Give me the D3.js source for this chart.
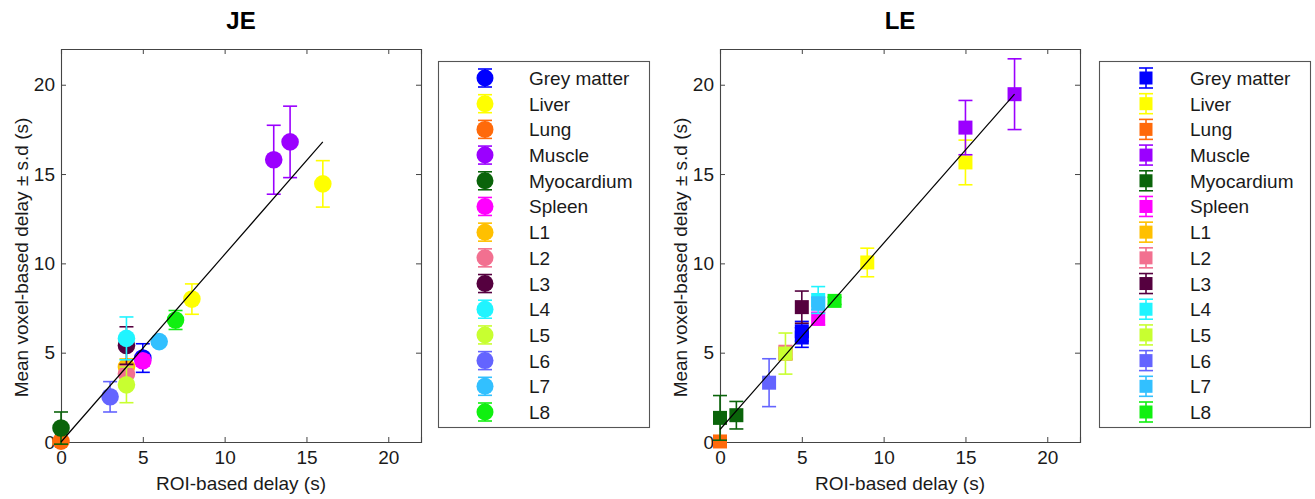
<!DOCTYPE html>
<html><head><meta charset="utf-8">
<script src="https://cdn.jsdelivr.net/npm/d3@7"></script>
<style>
body{margin:0;background:#fff}
svg{display:block}
text{font-family:"Liberation Sans",Arial,Helvetica,sans-serif;fill:#1a1a1a}
</style>
</head><body>
<svg id="c" width="1315" height="499"></svg>
<script>
// ---------- data ----------
const regions = ["Grey matter","Liver","Lung","Muscle","Myocardium","Spleen","L1","L2","L3","L4","L5","L6","L7","L8"];
const regionColors = ["#0000ff","#ffff00","#ff6a0a","#9b00ff","#0a640a","#ff00ff","#ffc000","#f27090","#55003f","#20f4ff","#c8ff30","#6464ff","#32c0ff","#10f010"];

const ticks = [0,5,10,15,20];
const axisDomain = [0,22];

// JE (circles)
const jeRegion = ["Grey matter","Liver","Liver","Lung","Muscle","Muscle","Myocardium","Spleen","L1","L2","L3","L4","L5","L6","L7","L8"];
const jeX  = [5, 8, 16, 0, 13, 14, 0, 5, 4, 4, 4, 4, 4, 3, 6, 7];
const jeY  = [4.7, 8.0, 14.45, 0.05, 15.8, 16.8, 0.78, 4.55, 4.2, 3.8, 5.4, 5.8, 3.2, 2.53, 5.62, 6.83];
const jeSD = [0.8, 0.85, 1.3, 0.05, 1.93, 2.0, 0.9, 0.3, 0.45, 0.45, 1.05, 1.2, 1.0, 0.85, 0.15, 0.53];
const jeFitX = [0, 16];
const jeFitY = [0.0, 16.8];

// LE (squares)
const leRegion = ["Grey matter","Grey matter","Liver","Liver","Lung","Muscle","Muscle","Myocardium","Myocardium","Spleen","L1","L2","L3","L4","L5","L6","L7","L8"];
const leX  = [5, 5, 9, 15, 0, 15, 18, 0, 1, 6, 4, 4, 5, 6, 4, 3, 6, 7];
const leY  = [6.2, 5.85, 10.05, 15.65, 0.03, 17.6, 19.47, 1.35, 1.5, 6.9, 4.95, 5.0, 7.55, 7.95, 4.95, 3.32, 7.75, 7.9];
const leSD = [0.55, 0.55, 0.8, 1.25, 0.05, 1.52, 1.98, 1.25, 0.77, 0.35, 0.3, 0.4, 0.9, 0.75, 1.15, 1.34, 0.35, 0.2];
const leFitX = [0, 18];
const leFitY = [0.7, 19.47];

const xLabel = "ROI-based delay (s)";
const yLabel = "Mean voxel-based delay \u00b1 s.d (s)";

// ---------- drawing ----------
const svg = d3.select("#c");
const color = d3.scaleOrdinal().domain(regions).range(regionColors);
const FS = 19;
const CAP = 7;

function panel(o){
  const x = d3.scaleLinear().domain(axisDomain).range([o.left, o.right]);
  const y = d3.scaleLinear().domain(axisDomain).range([o.bottom, o.top]);
  const g = svg.append("g");

  // title
  g.append("text").attr("x",o.titleX).attr("y",29).attr("text-anchor","middle")
    .style("font-size","24px").style("font-weight","bold").style("fill","#000").text(o.title);

  // axes (inward ticks all sides)
  const ax = [
    g.append("g").attr("transform",`translate(0,${o.bottom})`).call(d3.axisBottom(x).tickValues(ticks).tickSize(-5).tickPadding(9)),
    g.append("g").attr("transform",`translate(0,${o.top})`).call(d3.axisTop(x).tickValues(ticks).tickSize(-5).tickFormat("")),
    g.append("g").attr("transform",`translate(${o.left},0)`).call(d3.axisLeft(y).tickValues(ticks).tickSize(-5).tickPadding(6)),
    g.append("g").attr("transform",`translate(${o.right},0)`).call(d3.axisRight(y).tickValues(ticks).tickSize(-5).tickFormat(""))
  ];
  ax.forEach(a=>{
    a.select(".domain").attr("stroke","#444").attr("stroke-width",1.1);
    a.selectAll(".tick line").attr("stroke","#444");
    a.selectAll(".tick text").style("font-size",FS+"px").style("font-family","'Liberation Sans',Arial,sans-serif").attr("fill","#1a1a1a");
  });

  // labels
  g.append("text").attr("x",(o.left+o.right)/2).attr("y",490).attr("text-anchor","middle")
    .style("font-size",FS+"px").text(xLabel);
  g.append("text").attr("transform",`translate(${o.left-33},${(o.top+o.bottom)/2 + 12}) rotate(-90)`)
    .attr("text-anchor","middle").style("font-size",FS+"px").text(yLabel);

  // points
  const pts = o.X.map((v,i)=>({r:o.R[i], x:v, y:o.Y[i], sd:o.S[i]}));
  const pg = g.append("g");
  pts.forEach(p=>{
    const c = color(p.r);
    const cx = x(p.x), y0 = y(p.y - p.sd), y1 = y(p.y + p.sd);
    const e = pg.append("g").attr("stroke",c).attr("stroke-width",1.6);
    e.append("line").attr("x1",cx).attr("x2",cx).attr("y1",y0).attr("y2",y1);
    e.append("line").attr("x1",cx-CAP).attr("x2",cx+CAP).attr("y1",y0).attr("y2",y0);
    e.append("line").attr("x1",cx-CAP).attr("x2",cx+CAP).attr("y1",y1).attr("y2",y1);
    if(o.shape==="circle"){
      pg.append("circle").attr("cx",cx).attr("cy",y(p.y)).attr("r",8.8).attr("fill",c);
    } else {
      pg.append("rect").attr("x",cx-7).attr("y",y(p.y)-7).attr("width",14).attr("height",14).attr("fill",c);
    }
  });

  // fit line
  const line = d3.line().x(d=>x(d[0])).y(d=>y(d[1]));
  g.append("path").datum(o.FX.map((v,i)=>[v,o.FY[i]])).attr("d",line)
    .attr("fill","none").attr("stroke","#000").attr("stroke-width",1.2);

  // legend
  const lg = g.append("g");
  lg.append("rect").attr("x",o.legX+0.5).attr("y",61.5).attr("width",211).attr("height",366)
    .attr("fill","#fff").attr("stroke","#555").attr("stroke-width",1.1);
  const ly = d3.scalePoint().domain(regions).range([78,412]);
  regions.forEach(r=>{
    const c = color(r), cy = ly(r), cx = o.legX+47;
    const e = lg.append("g").attr("stroke",c).attr("stroke-width",1.6);
    const h = o.shape==="circle"?9:10;
    e.append("line").attr("x1",cx).attr("x2",cx).attr("y1",cy-h).attr("y2",cy+h);
    e.append("line").attr("x1",cx-7).attr("x2",cx+7).attr("y1",cy-h).attr("y2",cy-h);
    e.append("line").attr("x1",cx-7).attr("x2",cx+7).attr("y1",cy+h).attr("y2",cy+h);
    if(o.shape==="circle"){
      lg.append("circle").attr("cx",cx).attr("cy",cy).attr("r",8.5).attr("fill",c);
    } else {
      lg.append("rect").attr("x",cx-6.5).attr("y",cy-6.5).attr("width",13).attr("height",13).attr("fill",c);
    }
    lg.append("text").attr("x",o.legX+91).attr("y",cy+7).style("font-size",FS+"px").text(r);
  });
}

panel({title:"JE", titleX:241, left:61, right:421, top:49, bottom:442, legX:438, shape:"circle",
  R:jeRegion, X:jeX, Y:jeY, S:jeSD, FX:jeFitX, FY:jeFitY});
panel({title:"LE", titleX:900, left:720, right:1080, top:49, bottom:442, legX:1099, shape:"square",
  R:leRegion, X:leX, Y:leY, S:leSD, FX:leFitX, FY:leFitY});
</script>
</body></html>
